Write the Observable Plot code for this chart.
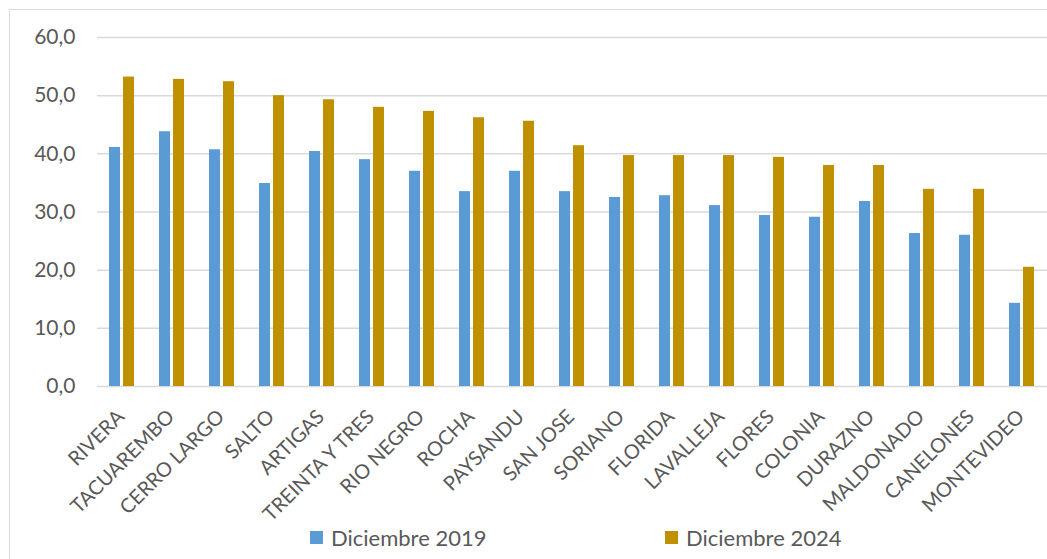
<!DOCTYPE html>
<html>
<head>
<meta charset="utf-8">
<script src="https://cdn.jsdelivr.net/npm/d3@7"></script>
<script src="https://cdn.jsdelivr.net/npm/@observablehq/plot@0.6"></script>
<style>
  html, body { margin: 0; padding: 0; background: #fff; }
  #wrap { position: relative; width: 1047px; height: 559px; overflow: hidden; font-family: Lato, "Open Sans", sans-serif; }
  #frame { position: absolute; left: 9px; top: 9px; width: 1050px; height: 560px; border: 1px solid #d9d9d9; box-sizing: border-box; }
  #chart { position: absolute; left: 0; top: 0; }
  .legend-item { position: absolute; top: 524px; display: flex; align-items: center; font-size: 22px; color: #595959; white-space: nowrap; }
  .swatch { width: 13px; height: 13px; margin-right: 8px; }
</style>
</head>
<body>
<div id="wrap">
  <div id="frame"></div>
  <div id="chart"></div>
  <div class="legend-item" style="left:310px"><span class="swatch" style="background:#5B9BD5"></span><span id="lg0"></span></div>
  <div class="legend-item" style="left:665px"><span class="swatch" style="background:#BF9000"></span><span id="lg1"></span></div>
</div>
<script>
const categories = ["RIVERA","TACUAREMBO","CERRO LARGO","SALTO","ARTIGAS","TREINTA Y TRES","RIO NEGRO","ROCHA","PAYSANDU","SAN JOSE","SORIANO","FLORIDA","LAVALLEJA","FLORES","COLONIA","DURAZNO","MALDONADO","CANELONES","MONTEVIDEO"];
const seriesNames = ["Diciembre 2019", "Diciembre 2024"];
const values2019 = [41.1, 43.8, 40.7, 34.9, 40.4, 39.0, 37.0, 33.5, 37.0, 33.5, 32.5, 32.8, 31.1, 29.4, 29.1, 31.8, 26.3, 26.0, 14.3];
const values2024 = [53.2, 52.8, 52.4, 50.0, 49.3, 48.0, 47.3, 46.2, 45.6, 41.4, 39.7, 39.7, 39.7, 39.4, 38.0, 38.0, 33.9, 33.9, 20.5];
const yTicks = [0, 10, 20, 30, 40, 50, 60];
const colors = ["#5B9BD5", "#BF9000"];

const d2019 = categories.map((c, i) => ({cat: c, value: values2019[i]}));
const d2024 = categories.map((c, i) => ({cat: c, value: values2024[i]}));
const fmt = d => d.toFixed(1).replace(".", ",");

const plot = Plot.plot({
  width: 1047,
  height: 520,
  marginTop: 37,
  marginBottom: 134,
  marginLeft: 97,
  marginRight: 0,
  style: {fontFamily: "Lato, 'Open Sans', sans-serif", color: "#595959", background: "transparent", overflow: "visible"},
  x: {domain: categories, paddingInner: 0.773, paddingOuter: 0.3865, label: null},
  y: {domain: [0, 60], label: null},
  marks: [
    Plot.ruleY(yTicks, {stroke: "#d9d9d9", strokeWidth: 1.5}),
    Plot.barY(d2019, {x: "cat", y: "value", fill: colors[0], dx: -7}),
    Plot.barY(d2024, {x: "cat", y: "value", fill: colors[1], dx: 7}),
    Plot.axisY({ticks: yTicks, tickFormat: fmt, tickSize: 0, tickPadding: 22, fontSize: 21, label: null}),
    Plot.axisX({tickSize: 0, tickPadding: 27, tickRotate: -45, fontSize: 20, dx: -1, label: null})
  ]
});
document.getElementById("chart").appendChild(plot);
document.getElementById("lg0").textContent = seriesNames[0];
document.getElementById("lg1").textContent = seriesNames[1];
</script>
</body>
</html>
